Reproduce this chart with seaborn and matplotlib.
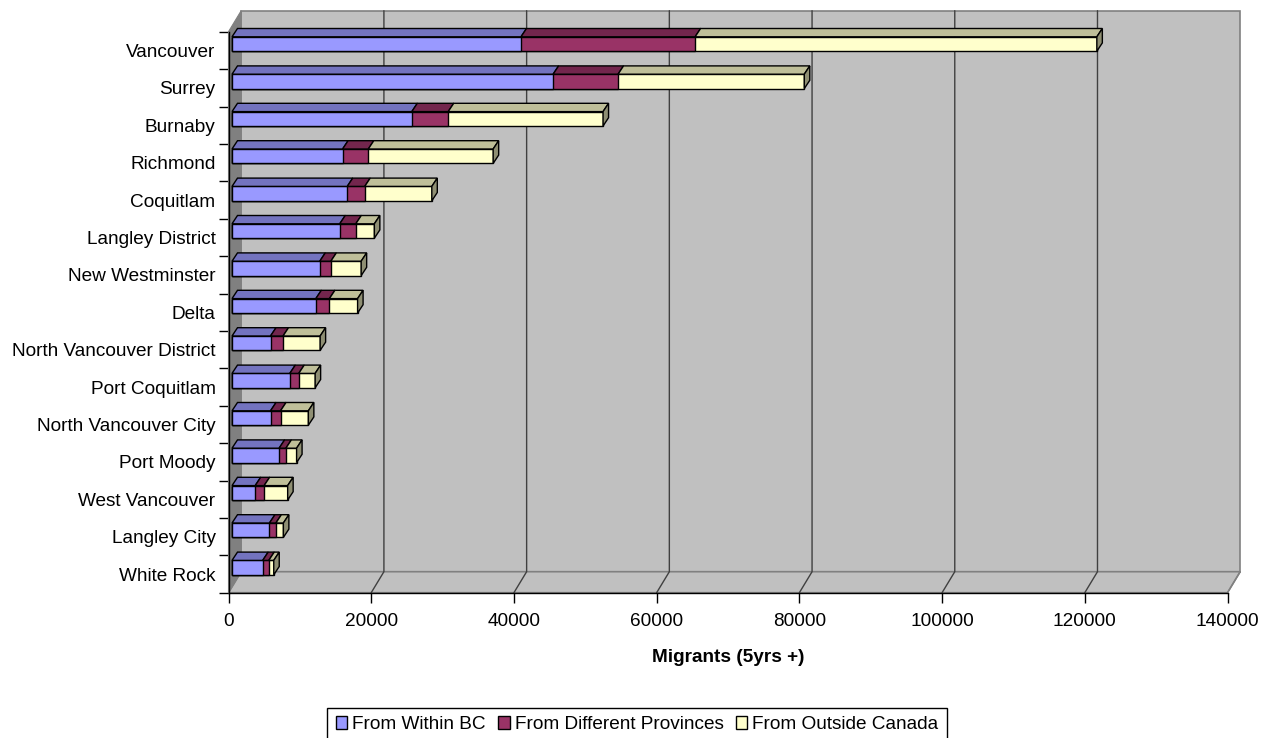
import numpy as np
import pandas as pd
import matplotlib
matplotlib.use("Agg")
import matplotlib.pyplot as plt
from matplotlib.patches import Patch, Polygon
import seaborn as sns

## values
cities = ["Vancouver", "Surrey", "Burnaby", "Richmond", "Coquitlam", "Langley District",
          "New Westminster", "Delta", "North Vancouver District", "Port Coquitlam",
          "North Vancouver City", "Port Moody", "West Vancouver", "Langley City", "White Rock"]
within_bc = [40500, 45000, 25200, 15500, 16150, 15100, 12300, 11750, 5400, 8100, 5400, 6600, 3250, 5250, 4300]
other_prov = [24400, 9100, 5100, 3600, 2450, 2250, 1550, 1900, 1750, 1250, 1400, 950, 1250, 900, 850]
outside_can = [56300, 26100, 21700, 17500, 9400, 2600, 4250, 3950, 5200, 2300, 3900, 1500, 3300, 1050, 700]

names = ["From Within BC", "From Different Provinces", "From Outside Canada"]
front = ["#9999FF", "#993366", "#FFFFCC"]
top = ["#7373BF", "#73264D", "#BFBF99"]
side = ["#5C5C99", "#5C1F3D", "#8F8F73"]

W, H = 1270, 738
X0, X1, Y0, Y1 = 228.5, 1227.5, 31.7, 592.7
PX = 140000 / (X1 - X0)  # data units per pixel
PY = 15 / (Y1 - Y0)

sns.set_theme(style="white")
plt.rcParams["font.family"] = ["Liberation Sans", "DejaVu Sans"]

fig = plt.figure(figsize=(W / 100, H / 100), dpi=100)
ax = fig.add_axes([X0 / W, 1 - Y1 / H, (X1 - X0) / W, (Y1 - Y0) / H])

df = pd.DataFrame({"city": cities, "a": within_bc, "b": other_prov, "c": outside_can})
df["ab"] = df.a + df.b
df["abc"] = df.ab + df.c

## stacked bars: biggest first, the shorter ones paint over it
BAR_H = 14.4 * PY
LW = 1.0
for col, colour in zip(["abc", "ab", "a"], front[::-1]):
    sns.barplot(data=df, y="city", x=col, color=colour, saturation=1, width=BAR_H,
                edgecolor="black", linewidth=LW, ax=ax, zorder=5)

ax.set_xlim(0, 140000)
ax.set_ylim(14.5, -0.5)

# bars sit a little inside the floor depth
SX, SY = 3.5 * PX, -6.4 * PY
for p in ax.patches:
    p.set_x(p.get_x() + SX)
    p.set_y(p.get_y() + SY)

## 3d look: top and end faces of the bars
DX, DY = 5.5 * PX, -8.3 * PY
for i in range(len(cities)):
    yt = i + SY - BAR_H / 2
    yb = i + SY + BAR_H / 2
    edges = [0, within_bc[i], within_bc[i] + other_prov[i], within_bc[i] + other_prov[i] + outside_can[i]]
    for j in range(3):
        x0, x1 = edges[j] + SX, edges[j + 1] + SX
        ax.add_patch(Polygon([(x0, yt), (x1, yt), (x1 + DX, yt + DY), (x0 + DX, yt + DY)],
                             fc=top[j], ec="black", lw=LW, zorder=5, clip_on=False))
    x1 = edges[3] + SX
    ax.add_patch(Polygon([(x1, yt), (x1 + DX, yt + DY), (x1 + DX, yb + DY), (x1, yb)],
                         fc=side[2], ec="black", lw=LW, zorder=5, clip_on=False))

## walls and floor
WX, WY = 12.7 * PX, -21 * PY
ymin, ymax = 14.5, -0.5
ax.add_patch(Polygon([(WX, ymin + WY), (140000 + WX, ymin + WY), (140000 + WX, ymax + WY), (WX, ymax + WY)],
                     fc="#C0C0C0", ec="#808080", lw=1.2, zorder=1, clip_on=False))
ax.add_patch(Polygon([(0, ymin), (140000, ymin), (140000 + WX, ymin + WY), (WX, ymin + WY)],
                     fc="#C0C0C0", ec="#808080", lw=1.2, zorder=1, clip_on=False))
ax.add_patch(Polygon([(0, ymin), (WX, ymin + WY), (WX, ymax + WY), (0, ymax)],
                     fc="#808080", ec="#808080", lw=0.8, zorder=1, clip_on=False))
for v in range(20000, 140000, 20000):
    ax.plot([v, v + WX, v + WX], [ymin, ymin + WY, ymax + WY], color="#404040", lw=1.0,
            zorder=2, clip_on=False)
ax.plot([140000, 140000 + WX], [ymin, ymin + WY], color="#808080", lw=1.0, zorder=2, clip_on=False)

## axes
for s in ["top", "right"]:
    ax.spines[s].set_visible(False)
for s in ["left", "bottom"]:
    ax.spines[s].set_color("black")
    ax.spines[s].set_linewidth(LW)
    ax.spines[s].set_zorder(4)
ax.set_xticks(range(0, 140001, 20000))
ax.set_yticks(range(15))
ax.set_yticklabels(cities)
ax.set_yticks(np.arange(-0.5, 15), minor=True)
ax.tick_params(axis="y", which="major", length=0, pad=9.3, labelsize=13.7, labelcolor="black")
ax.tick_params(axis="y", which="minor", left=True, length=7.5, width=LW, color="black")
ax.tick_params(axis="x", bottom=True, length=7.5, width=LW, color="black", pad=7, labelsize=13.7, labelcolor="black")
ax.set_ylabel("")
ax.set_xlabel("")
fig.text(728.5 / W, 1 - 657 / H, "Migrants (5yrs +)", ha="center", va="center", fontsize=13.7, fontweight="bold", color="black")

# the legend box runs off the bottom of the picture in the original too
handles = [Patch(fc=c, ec="black", lw=LW) for c in front]
fig.legend(handles, names, ncol=3, loc="upper left", bbox_to_anchor=(327 / W, 1 - 707.5 / H), fontsize=13.7,
           frameon=True, fancybox=False, framealpha=1, edgecolor="black", borderpad=0.45, borderaxespad=0,
           handlelength=0.62, handleheight=0.62, handletextpad=0.27, columnspacing=0.62, labelcolor="black")

fig.savefig("out.png", dpi=100)
